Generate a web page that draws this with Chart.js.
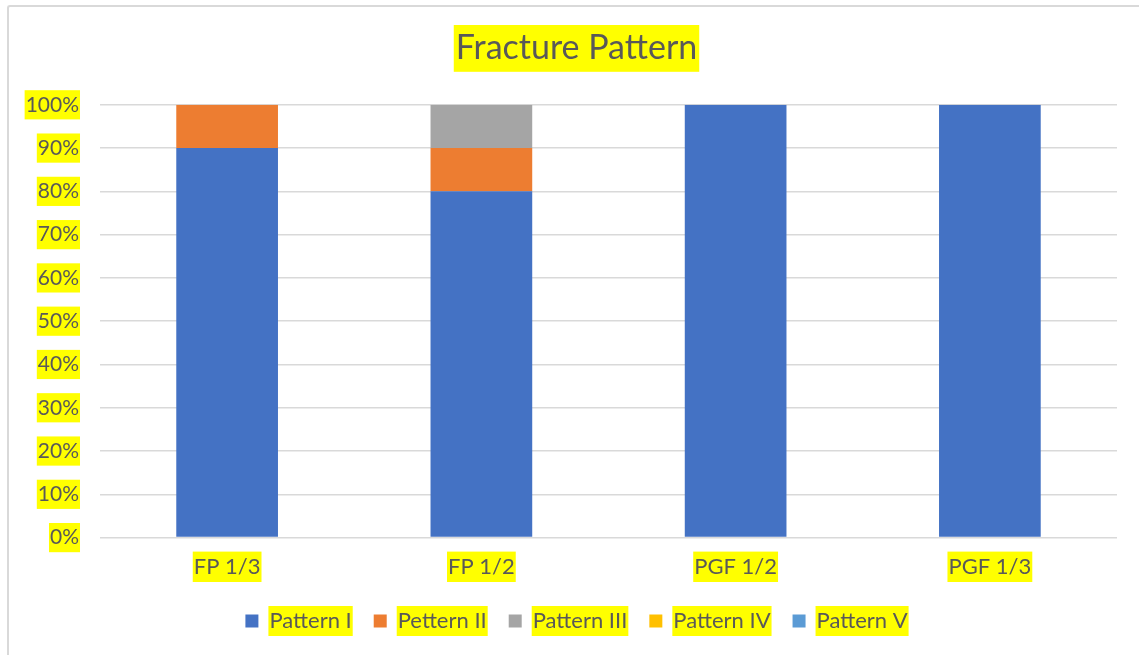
<!DOCTYPE html>
<html>
<head>
<meta charset="utf-8">
<title>Fracture Pattern</title>
<script src="https://cdn.jsdelivr.net/npm/chart.js@4.4.1/dist/chart.umd.min.js"></script>
<style>
    html, body {
        margin: 0;
        padding: 0;
        background: #ffffff;
    }

    .frame {
        position: absolute;
        left: 7px;
        top: 5px;
        width: 1140px;
        height: 660px;
        border-left: 2px solid #d9d9d9;
        border-top: 2px solid #d9d9d9;
        border-top-left-radius: 3px;
    }

    .chart-box {
        position: absolute;
        left: 0;
        top: 0;
        width: 1139px;
        height: 655px;
    }
</style>
</head>
<body>
<div class="frame"></div>
<div class="chart-box">
    <canvas id="fracture-chart"></canvas>
</div>
<script>
const categories = ["FP 1/3", "FP 1/2", "PGF 1/2", "PGF 1/3"];
const seriesNames = ["Pattern I", "Pettern II", "Pattern III", "Pattern IV", "Pattern V"];
const patternI = [90, 80, 100, 100];
const patternII = [10, 10, 0, 0];
const patternIII = [0, 10, 0, 0];
const patternIV = [0, 0, 0, 0];
const patternV = [0, 0, 0, 0];
const seriesColors = ["#4472c4", "#ed7d31", "#a5a5a5", "#ffc000", "#5b9bd5"];

const highlight = "#ffff00";
const textColor = "#595959";
const fontFamily = "Lato, 'Open Sans', sans-serif";

// Yellow marker behind the title and the legend texts
const highlightPlugin = {
    id: "highlightPlugin",
    beforeDraw(chart) {
        const ctx = chart.ctx;
        ctx.save();
        ctx.fillStyle = highlight;

        const titleOpts = chart.options.plugins.title;
        const title = chart.titleBlock;
        if (title && titleOpts.display) {
            const font = Chart.helpers.toFont(titleOpts.font);
            ctx.font = font.string;
            const width = ctx.measureText(titleOpts.text).width;
            const centerX = (title.left + title.right) / 2;
            const centerY = title.top + titleOpts.padding.top + font.lineHeight / 2;
            const height = font.lineHeight + 6;
            ctx.fillRect(centerX - width / 2 - 2, centerY - height / 2, width + 4, height);
        }

        const legend = chart.legend;
        if (legend && legend.legendHitBoxes) {
            const labelOpts = legend.options.labels;
            const font = Chart.helpers.toFont(labelOpts.font);
            ctx.font = font.string;
            legend.legendHitBoxes.forEach((box, i) => {
                const text = legend.legendItems[i].text;
                const width = ctx.measureText(text).width;
                const left = box.left + labelOpts.boxWidth + font.size / 2;
                const centerY = box.top + box.height / 2;
                ctx.fillRect(left - 1, centerY - 15, width + 2, 30);
            });
        }

        ctx.restore();
    }
};

const datasets = [patternI, patternII, patternIII, patternIV, patternV].map((values, i) => ({
    label: seriesNames[i],
    data: values,
    backgroundColor: seriesColors[i],
    borderWidth: 0,
    categoryPercentage: 1,
    barPercentage: 0.4
}));

new Chart(document.getElementById("fracture-chart"), {
    type: "bar",
    data: {
        labels: categories,
        datasets
    },
    plugins: [highlightPlugin],
    options: {
        responsive: true,
        maintainAspectRatio: false,
        animation: false,
        layout: {
            padding: {
                left: 14,
                right: 0,
                top: 0,
                bottom: 13
            }
        },
        plugins: {
            title: {
                display: true,
                text: "Fracture Pattern",
                color: textColor,
                font: {
                    family: fontFamily,
                    size: 34,
                    weight: "normal"
                },
                padding: {
                    top: 28,
                    bottom: 36
                }
            },
            legend: {
                position: "bottom",
                labels: {
                    color: textColor,
                    boxWidth: 13,
                    boxHeight: 13,
                    padding: 22,
                    font: {
                        family: fontFamily,
                        size: 22
                    }
                }
            },
            tooltip: {
                enabled: false
            }
        },
        scales: {
            x: {
                stacked: true,
                grid: {
                    display: false
                },
                border: {
                    display: false
                },
                ticks: {
                    color: textColor,
                    padding: 8,
                    showLabelBackdrop: true,
                    backdropColor: highlight,
                    backdropPadding: { x: 1, y: 2 },
                    font: {
                        family: fontFamily,
                        size: 22
                    }
                }
            },
            y: {
                stacked: true,
                min: 0,
                max: 100,
                afterFit(scale) {
                    scale.width = 86;
                },
                grid: {
                    color: "#d9d9d9",
                    lineWidth: 1.5,
                    drawTicks: false
                },
                border: {
                    display: false
                },
                ticks: {
                    stepSize: 10,
                    color: textColor,
                    padding: 21,
                    showLabelBackdrop: true,
                    backdropColor: highlight,
                    backdropPadding: { x: 1, y: 2 },
                    font: {
                        family: fontFamily,
                        size: 21
                    },
                    callback(value) {
                        return `${value}%`;
                    }
                }
            },
            // empty right margin so title and legend sit centred like the original
            spacer: {
                type: "linear",
                position: "right",
                afterFit(scale) {
                    scale.width = 22;
                },
                grid: {
                    display: false
                },
                border: {
                    display: false
                },
                ticks: {
                    display: false
                }
            }
        }
    }
});
</script>
</body>
</html>
